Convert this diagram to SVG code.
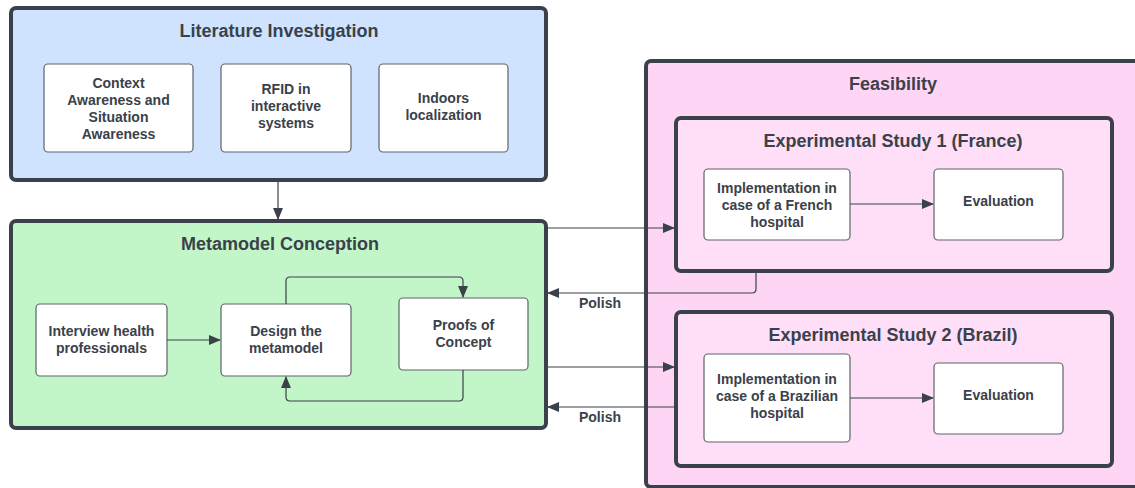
<svg xmlns="http://www.w3.org/2000/svg" width="1135" height="488" viewBox="0 0 1135 488">
  <style>
    .frame { stroke: #3a414a; stroke-width: 4; }
    .node { fill: #ffffff; stroke: #5e646b; stroke-width: 1.2; }
    .title { font-family: "Liberation Sans", Arial, sans-serif; font-weight: bold; font-size: 18px; fill: #3a414a; text-anchor: middle; }
    .label { font-family: "Liberation Sans", Arial, sans-serif; font-weight: bold; font-size: 14px; fill: #3a414a; text-anchor: middle; }
    .edge { fill: none; stroke: #3a414a; stroke-width: 1.2; }
  </style>
  <defs>
    <marker id="arrow" viewBox="0 0 12 10" refX="11" refY="5" markerWidth="12" markerHeight="10" markerUnits="userSpaceOnUse" orient="auto">
      <path d="M0,0 L12,5 L0,10 Z" fill="#3a414a"/>
    </marker>
  </defs>

  <rect width="1135" height="488" fill="#ffffff"/>

  <!-- Literature Investigation -->
  <g id="literature">
    <rect class="frame" x="11" y="8" width="535" height="172" rx="5" fill="#cfe3ff"/>
    <text class="title" x="279" y="37">Literature Investigation</text>
    <g id="context-awareness">
      <rect class="node" x="44" y="64" width="149" height="88" rx="4"/>
      <text class="label" x="118.5" y="88">Context</text>
      <text class="label" x="118.5" y="105">Awareness and</text>
      <text class="label" x="118.5" y="122">Situation</text>
      <text class="label" x="118.5" y="139">Awareness</text>
    </g>
    <g id="rfid">
      <rect class="node" x="221" y="64" width="130" height="88" rx="4"/>
      <text class="label" x="286" y="94">RFID in</text>
      <text class="label" x="286" y="111">interactive</text>
      <text class="label" x="286" y="128">systems</text>
    </g>
    <g id="indoors">
      <rect class="node" x="379" y="64" width="129" height="88" rx="4"/>
      <text class="label" x="443.5" y="103">Indoors</text>
      <text class="label" x="443.5" y="120">localization</text>
    </g>
  </g>

  <!-- Metamodel Conception -->
  <g id="metamodel">
    <rect class="frame" x="11" y="221" width="535" height="207" rx="5" fill="#c2f5c7"/>
    <text class="title" x="280" y="250">Metamodel Conception</text>
    <g id="interview">
      <rect class="node" x="36" y="304" width="131" height="72" rx="4"/>
      <text class="label" x="101.5" y="336">Interview health</text>
      <text class="label" x="101.5" y="353">professionals</text>
    </g>
    <g id="design">
      <rect class="node" x="221" y="304" width="130" height="72" rx="4"/>
      <text class="label" x="286" y="336">Design the</text>
      <text class="label" x="286" y="353">metamodel</text>
    </g>
    <g id="proofs">
      <rect class="node" x="399" y="298" width="129" height="72" rx="4"/>
      <text class="label" x="463.5" y="330">Proofs of</text>
      <text class="label" x="463.5" y="347">Concept</text>
    </g>
  </g>

  <!-- Feasibility -->
  <g id="feasibility">
    <rect class="frame" x="646" y="61" width="495" height="426" rx="5" fill="#ffd5f5"/>
    <text class="title" x="893" y="90">Feasibility</text>
    <g id="study1">
      <rect class="frame" x="676" y="118" width="436" height="153" rx="5" fill="#ffdef7"/>
      <text class="title" x="893" y="147">Experimental Study 1 (France)</text>
      <g id="impl-france">
        <rect class="node" x="704" y="169" width="146" height="71" rx="4"/>
        <text class="label" x="777" y="193">Implementation in</text>
        <text class="label" x="777" y="210">case of a French</text>
        <text class="label" x="777" y="227">hospital</text>
      </g>
      <g id="eval-france">
        <rect class="node" x="934" y="169" width="129" height="71" rx="4"/>
        <text class="label" x="998.5" y="206">Evaluation</text>
      </g>
    </g>
    <g id="study2">
      <rect class="frame" x="676" y="312" width="436" height="154" rx="5" fill="#ffdef7"/>
      <text class="title" x="893" y="341">Experimental Study 2 (Brazil)</text>
      <g id="impl-brazil">
        <rect class="node" x="704" y="354" width="146" height="88" rx="4"/>
        <text class="label" x="777" y="384">Implementation in</text>
        <text class="label" x="777" y="401">case of a Brazilian</text>
        <text class="label" x="777" y="418">hospital</text>
      </g>
      <g id="eval-brazil">
        <rect class="node" x="934" y="363" width="129" height="71" rx="4"/>
        <text class="label" x="998.5" y="400">Evaluation</text>
      </g>
    </g>
  </g>

  <!-- Connectors -->
  <g id="connectors">
    <path class="edge" d="M278,181 L278,219" marker-end="url(#arrow)"/>
    <path class="edge" d="M167,340 L220,340" marker-end="url(#arrow)"/>
    <path class="edge" d="M286,304 L286,281 Q286,277 290,277 L459,277 Q463,277 463,281 L463,297" marker-end="url(#arrow)"/>
    <path class="edge" d="M463,370 L463,397 Q463,401 459,401 L290,401 Q286,401 286,397 L286,377" marker-end="url(#arrow)"/>
    <path class="edge" d="M850,204 L933,204" marker-end="url(#arrow)"/>
    <path class="edge" d="M850,398 L933,398" marker-end="url(#arrow)"/>
    <path class="edge" d="M547,228 L674,228" marker-end="url(#arrow)"/>
    <path class="edge" d="M756,272 L756,289 Q756,293 752,293 L548,293" marker-end="url(#arrow)"/>
    <path class="edge" d="M547,367 L674,367" marker-end="url(#arrow)"/>
    <path class="edge" d="M674,407 L548,407" marker-end="url(#arrow)"/>
    <text class="label" x="600" y="308">Polish</text>
    <text class="label" x="600" y="422">Polish</text>
  </g>
</svg>
